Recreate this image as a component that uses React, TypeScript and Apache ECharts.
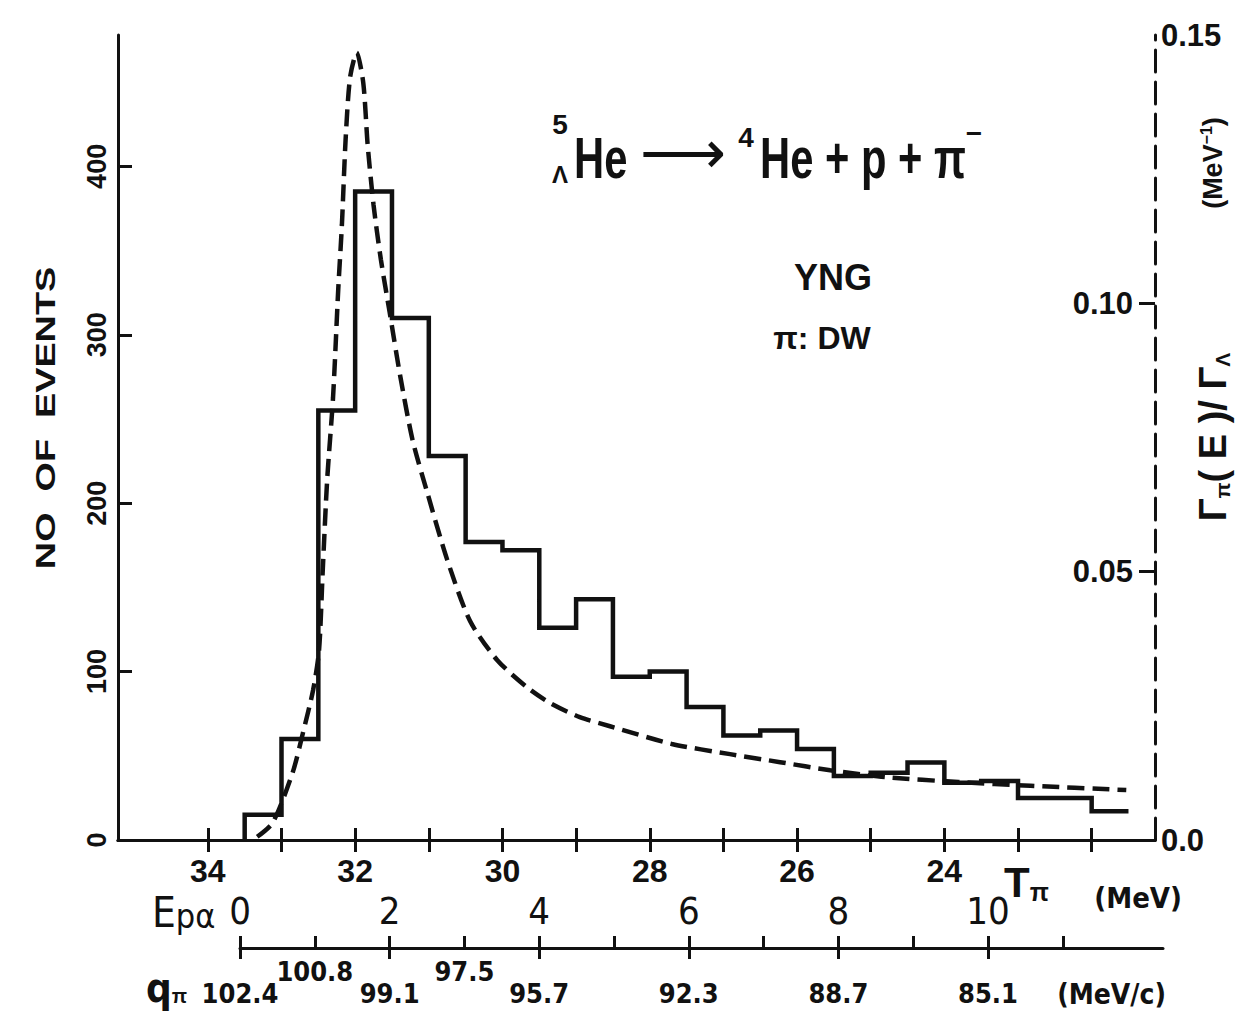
import React, { useEffect, useRef } from "react";
import * as echarts from "echarts";

// Histogram: bin edges in T_pi (MeV), counts per bin
const binEdges = [33.5, 33.0, 32.5, 32.0, 31.5, 31.0, 30.5, 30.0, 29.5, 29.0, 28.5, 28.0, 27.5, 27.0, 26.5, 26.0, 25.5, 25.0, 24.5, 24.0, 23.5, 23.0, 22.5, 22.0, 21.5];
const counts = [15, 60, 255, 385, 310, 228, 177, 172, 126, 143, 97, 100, 79, 62, 65, 54, 38, 40, 46, 34, 35, 25, 25, 17];

// Theoretical curve Gamma_pi(E)/Gamma_Lambda (MeV^-1) vs T_pi
const curveT = [33.33, 33.12, 32.85, 32.71, 32.57, 32.49, 32.44, 32.38, 32.3, 32.23, 32.18, 32.13, 32.07, 31.98, 31.89, 31.83, 31.75, 31.65, 31.53, 31.39, 31.22, 31.02, 30.75, 30.44, 30.07, 29.67, 29.35, 28.95, 28.54, 27.7, 26.91, 26.23, 25.55, 24.79, 23.81, 22.83, 21.53];
const curveRatio = [0.0006, 0.0032, 0.0125, 0.0199, 0.028, 0.0354, 0.0503, 0.0671, 0.0825, 0.1025, 0.1146, 0.1304, 0.142, 0.1467, 0.1411, 0.1295, 0.1183, 0.1081, 0.0982, 0.0866, 0.0745, 0.0647, 0.0522, 0.0408, 0.0335, 0.0285, 0.0255, 0.0229, 0.0212, 0.0179, 0.016, 0.0145, 0.013, 0.0117, 0.0108, 0.0101, 0.0093];

// Axis ticks / labels
const tPiTicks = [34, 33, 32, 31, 30, 29, 28, 27, 26, 25, 24, 23, 22];
const tPiLabels = [34, 32, 30, 28, 26, 24];
const eventTicks = [0, 100, 200, 300, 400];
const ratioInnerTicks = [0.05, 0.1];
const ratioOuterLabels = [0, 0.15];
const ePaTicks = [0, 1, 2, 3, 4, 5, 6, 7, 8, 9, 10, 11];
const ePaLabels = [0, 2, 4, 6, 8, 10];
const qEvenPos = [0, 2, 4, 6, 8, 10];
const qEvenLabels = ["102.4", "99.1", "95.7", "92.3", "88.7", "85.1"];
const qOddPos = [1, 3];
const qOddLabels = ["100.8", "97.5"];

const SANS = "'Liberation Sans', Arial, sans-serif";
const NARROW = "'Liberation Sans Narrow', 'DejaVu Sans Condensed', 'Liberation Sans', sans-serif";
const INK = "#111";

export default function App() {
  const ref = useRef<HTMLDivElement>(null);
  useEffect(() => {
    document.body.style.margin = "0";
    const chart = echarts.init(ref.current!, null, { renderer: "svg" });

    const hist: number[][] = [[binEdges[0], 0]];
    counts.forEach((c, i) => {
      hist.push([binEdges[i], c]);
      hist.push([binEdges[i + 1], c]);
    });
    const curve = curveT.map((t, i) => [t, curveRatio[i]]);

    const tMin = 21.14;
    const tMax = 35.22;
    const ePaMax = 12.34;

    const lineStyle = { color: INK, width: 3 };

    const option: any = {
      animation: false,
      backgroundColor: "#fff",
      grid: [
        { left: 118, top: 35, width: 1037, height: 805 },
        { left: 240, top: 947, width: 923, height: 1 },
      ],
      xAxis: [
        {
          type: "value", gridIndex: 0, position: "bottom", inverse: true, min: tMin, max: tMax,
          axisLine: { show: true, lineStyle },
          axisTick: { show: true, inside: true, length: 12, customValues: tPiTicks, lineStyle },
          axisLabel: { customValues: tPiLabels, margin: 15, color: INK, fontFamily: SANS, fontWeight: "bold", fontSize: 32 },
          splitLine: { show: false },
        },
        {
          type: "value", gridIndex: 0, position: "top", inverse: true, min: tMin, max: tMax,
          axisLine: { show: true, lineStyle },
          axisTick: { show: true, inside: true, length: 12, customValues: tPiTicks, lineStyle },
          axisLabel: { show: false },
          splitLine: { show: false },
        },
        {
          type: "value", gridIndex: 1, position: "top", min: 0, max: ePaMax,
          axisLine: { show: true, lineStyle },
          axisTick: { show: true, inside: false, length: 12, customValues: ePaTicks, lineStyle },
          axisLabel: { customValues: ePaLabels, margin: 17, color: INK, fontFamily: NARROW, fontSize: 38 },
          splitLine: { show: false },
        },
        {
          type: "value", gridIndex: 1, position: "bottom", min: 0, max: ePaMax,
          axisLine: { show: false },
          axisTick: { show: true, inside: false, length: 11, customValues: ePaLabels, lineStyle },
          axisLabel: {
            customValues: qEvenPos, margin: 32, color: INK, fontFamily: NARROW, fontWeight: "bold", fontSize: 27,
            formatter: (v: number) => {
              const i = qEvenPos.indexOf(Math.round(v));
              return i < 0 ? "" : qEvenLabels[i];
            },
          },
          splitLine: { show: false },
        },
        {
          type: "value", gridIndex: 1, position: "bottom", min: 0, max: ePaMax,
          axisLine: { show: false },
          axisTick: { show: false },
          axisLabel: {
            customValues: qOddPos, margin: 10, color: INK, fontFamily: NARROW, fontWeight: "bold", fontSize: 27,
            formatter: (v: number) => {
              const i = qOddPos.indexOf(Math.round(v));
              return i < 0 ? "" : qOddLabels[i];
            },
          },
          splitLine: { show: false },
        },
      ],
      yAxis: [
        {
          type: "value", gridIndex: 0, position: "left", min: 0, max: 478,
          axisLine: { show: true, lineStyle },
          axisTick: { show: true, inside: true, length: 14, customValues: eventTicks, lineStyle },
          axisLabel: { customValues: eventTicks, rotate: 90, margin: 8, color: INK, fontFamily: SANS, fontWeight: "bold", fontSize: 27 },
          splitLine: { show: false },
        },
        {
          type: "value", gridIndex: 0, position: "right", min: 0, max: 0.15,
          axisLine: { show: true, lineStyle: { color: INK, width: 3, type: [22, 10] } },
          axisTick: { show: true, inside: true, length: 16, customValues: ratioInnerTicks, lineStyle },
          axisLabel: {
            inside: true, customValues: ratioInnerTicks, margin: 22, color: INK, fontFamily: SANS, fontWeight: "bold", fontSize: 31,
            formatter: (v: number) => v.toFixed(2),
          },
          splitLine: { show: false },
        },
        {
          type: "value", gridIndex: 0, position: "right", min: 0, max: 0.15,
          axisLine: { show: false },
          axisTick: { show: false },
          axisLabel: {
            customValues: ratioOuterLabels, margin: 6, color: INK, fontFamily: SANS, fontWeight: "bold", fontSize: 31,
            formatter: (v: number) => (v === 0 ? "0.0" : v.toFixed(2)),
          },
          splitLine: { show: false },
        },
        { type: "value", gridIndex: 1, show: false, min: 0, max: 1 },
      ],
      series: [
        {
          type: "line", xAxisIndex: 0, yAxisIndex: 0, data: hist, symbol: "none",
          lineStyle: { color: INK, width: 4.5, join: "miter" },
        },
        {
          type: "line", xAxisIndex: 0, yAxisIndex: 1, data: curve, symbol: "none", smooth: 0.25,
          lineStyle: { color: INK, width: 4.5, type: [17, 8] },
        },
      ],
      graphic: [
        {
          type: "text", x: 45, y: 418, rotation: Math.PI / 2, scaleX: 1.35,
          style: { text: "NO  OF  EVENTS", fill: INK, fontFamily: SANS, fontWeight: "bold", fontSize: 28, align: "center", verticalAlign: "middle" },
        },
        { type: "text", x: 560, y: 124, style: { text: "5", fill: INK, fontFamily: SANS, fontWeight: "bold", fontSize: 28, align: "center", verticalAlign: "middle" } },
        { type: "text", x: 560, y: 174, style: { text: "Λ", fill: INK, fontFamily: SANS, fontWeight: "bold", fontSize: 24, align: "center", verticalAlign: "middle" } },
        { type: "text", x: 574, y: 158, scaleX: 0.72, style: { text: "He", fill: INK, fontFamily: SANS, fontWeight: "bold", fontSize: 58, align: "left", verticalAlign: "middle" } },
        { type: "text", x: 640, y: 152, style: { text: "⟶", fill: INK, fontFamily: "'DejaVu Sans', sans-serif", fontSize: 60, align: "left", verticalAlign: "middle" } },
        { type: "text", x: 746, y: 137, style: { text: "4", fill: INK, fontFamily: SANS, fontWeight: "bold", fontSize: 28, align: "center", verticalAlign: "middle" } },
        { type: "text", x: 760, y: 158, scaleX: 0.72, style: { text: "He + p + π", fill: INK, fontFamily: SANS, fontWeight: "bold", fontSize: 58, align: "left", verticalAlign: "middle" } },
        { type: "text", x: 974, y: 133, style: { text: "−", fill: INK, fontFamily: SANS, fontWeight: "bold", fontSize: 28, align: "center", verticalAlign: "middle" } },
        { type: "text", x: 833, y: 277, style: { text: "YNG", fill: INK, fontFamily: SANS, fontWeight: "bold", fontSize: 36, align: "center", verticalAlign: "middle" } },
        { type: "text", x: 822, y: 338, style: { text: "π: DW", fill: INK, fontFamily: SANS, fontWeight: "bold", fontSize: 32, align: "center", verticalAlign: "middle" } },
        {
          type: "text", x: 1213, y: 437, rotation: Math.PI / 2,
          style: {
            text: "Γ{s|π}( E )/ Γ{s|Λ}", fill: INK, fontFamily: SANS, fontWeight: "bold", fontSize: 38, align: "center", verticalAlign: "middle",
            rich: { s: { fontFamily: SANS, fontWeight: "bold", fontSize: 21, fill: INK, padding: [18, 0, 0, 0] } },
          },
        },
        {
          type: "text", x: 1213, y: 163, rotation: Math.PI / 2,
          style: {
            text: "(MeV{u|−1})", fill: INK, fontFamily: SANS, fontWeight: "bold", fontSize: 27, align: "center", verticalAlign: "middle",
            rich: { u: { fontFamily: SANS, fontWeight: "bold", fontSize: 16, fill: INK, padding: [0, 0, 14, 0] } },
          },
        },
        {
          type: "text", x: 1004, y: 882,
          style: {
            text: "T{s|π}", fill: INK, fontFamily: SANS, fontWeight: "bold", fontSize: 42, align: "left", verticalAlign: "middle",
            rich: { s: { fontFamily: SANS, fontWeight: "bold", fontSize: 25, fill: INK, padding: [20, 0, 0, 0] } },
          },
        },
        { type: "text", x: 1182, y: 898, style: { text: "(MeV)", fill: INK, fontFamily: NARROW, fontWeight: "bold", fontSize: 29, align: "right", verticalAlign: "middle" } },
        {
          type: "text", x: 152, y: 912,
          style: {
            text: "E{s|pα}", fill: INK, fontFamily: NARROW, fontSize: 42, align: "left", verticalAlign: "middle",
            rich: { s: { fontFamily: NARROW, fontSize: 34, fill: INK, padding: [8, 0, 0, 0] } },
          },
        },
        {
          type: "text", x: 146, y: 988,
          style: {
            text: "q{s|π}", fill: INK, fontFamily: NARROW, fontWeight: "bold", fontSize: 40, align: "left", verticalAlign: "middle",
            rich: { s: { fontFamily: SANS, fontWeight: "bold", fontSize: 20, fill: INK, padding: [16, 0, 0, 0] } },
          },
        },
        { type: "text", x: 1166, y: 994, style: { text: "(MeV/c)", fill: INK, fontFamily: NARROW, fontWeight: "bold", fontSize: 28, align: "right", verticalAlign: "middle" } },
      ],
    };
    chart.setOption(option);
    return () => chart.dispose();
  }, []);
  return <div ref={ref} style={{ position: "fixed", left: 0, top: 0, width: 1236, height: 1015, background: "#fff" }} />;
}
